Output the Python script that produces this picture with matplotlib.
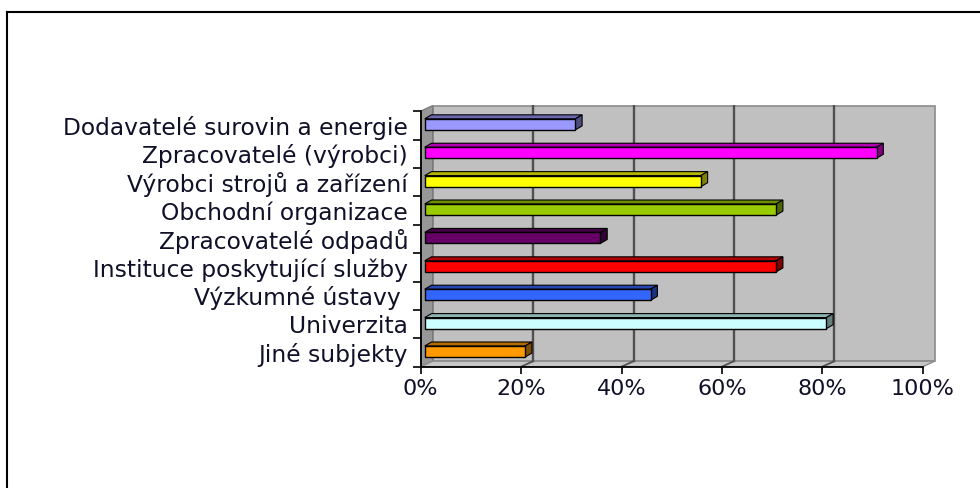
"""
Podil typu subjektu (3D vodorovny sloupcovy graf).
"""
import matplotlib
matplotlib.use("Agg")
import matplotlib.pyplot as plt
from matplotlib.patches import Polygon, Rectangle
from matplotlib.lines import Line2D
import numpy as np

kategorie = ["Dodavatelé surovin a energie", "Zpracovatelé (výrobci)",
             "Výrobci strojů a zařízení", "Obchodní organizace",
             "Zpracovatelé odpadů", "Instituce poskytující služby",
             "Výzkumné ústavy ", "Univerzita", "Jiné subjekty"]
podil = [30, 90, 55, 70, 35, 70, 45, 80, 20]
barvy = ["#9999FF", "#FF00FF", "#FFFF00", "#99CC00", "#660066",
         "#FF0000", "#3366FF", "#CCFFFF", "#FF9900"]
x_ticks = [0, 20, 40, 60, 80, 100]
x_labels = ["0%", "20%", "40%", "60%", "80%", "100%"]

# hloubka 3D (v jednotkach dat)
DX_W = 2.39; DY_W = 0.194      # steny
X0 = 0.8; H = 0.39; Y_OFF = 0.035
DXB = 1.35; DYB = 0.14         # hloubka sloupce

def tmavsi(c, f):
    r, g, b = matplotlib.colors.to_rgb(c)
    return (r * f, g * f, b * f)

fig = plt.figure(figsize=(9.8, 4.88), dpi=100)
ax = fig.add_axes([420.7 / 980, 1 - 366.7 / 488, 519.6 / 980, 261.8 / 488])
ax.set_xlim(0, 103.5); ax.set_ylim(-0.5, 8.72)
ax.set_facecolor("none")

n = len(kategorie)
top = n - 0.5
# steny a podlaha
ax.add_patch(Rectangle((DX_W, -0.5 + DY_W), 100, n, fc="#c0c0c0",
                       ec="#8c8c8c", lw=1.2, zorder=1, clip_on=False))
ax.add_patch(Polygon([(0, -0.5), (DX_W, -0.5 + DY_W), (DX_W, top + DY_W), (0, top)],
                     fc="#979797", ec="#7a7a7a", lw=1, zorder=1, clip_on=False))
ax.add_patch(Polygon([(0, -0.5), (100, -0.5), (100 + DX_W, -0.5 + DY_W), (DX_W, -0.5 + DY_W)],
                     fc="#c6c6c6", ec="#8c8c8c", lw=1, zorder=1, clip_on=False))
for v in x_ticks[1:-1]:
    ax.plot([v + DX_W, v + DX_W], [-0.5 + DY_W, top + DY_W], color="#505050", lw=1.7, zorder=2)
    ax.plot([v, v + DX_W], [-0.5, -0.5 + DY_W], color="#505050", lw=1.3, zorder=2)

# sloupce
ys = np.arange(n)[::-1]
for y, v, c in zip(ys, podil, barvy):
    yc = y + Y_OFF
    ax.barh(yc, v, height=H, left=X0, color=c, edgecolor="black", lw=1, zorder=4)
    ax.add_patch(Polygon([(X0, yc + H / 2), (X0 + v, yc + H / 2),
                          (X0 + v + DXB, yc + H / 2 + DYB), (X0 + DXB, yc + H / 2 + DYB)],
                         fc=tmavsi(c, 0.7), ec="black", lw=0.8, zorder=3))
    ax.add_patch(Polygon([(X0 + v, yc - H / 2), (X0 + v + DXB, yc - H / 2 + DYB),
                          (X0 + v + DXB, yc + H / 2 + DYB), (X0 + v, yc + H / 2)],
                         fc=tmavsi(c, 0.5), ec="black", lw=0.8, zorder=3))

# osy
for s in ["top", "right"]:
    ax.spines[s].set_visible(False)
ax.spines["left"].set_bounds(-0.5, top)
ax.spines["bottom"].set_bounds(0, 100)
for s in ["left", "bottom"]:
    ax.spines[s].set_linewidth(1.3); ax.spines[s].set_zorder(6)

txt = "#101028"
ax.set_xticks(x_ticks)
ax.set_xticklabels(x_labels, fontsize=16, color=txt)
ax.tick_params(axis="x", length=5, width=1.2, pad=4)
ax.set_yticks(np.arange(-0.5, n, 1.0))
ax.set_yticklabels([])
ax.tick_params(axis="y", which="major", length=6, width=1.2)
ax.set_yticks(ys, minor=True)
ax.set_yticklabels(kategorie, minor=True, fontsize=16.8, color=txt)
ax.tick_params(axis="y", which="minor", length=0, pad=9)

# ramecek
fx = 7 / 980; fy = 1 - 12 / 488
fig.add_artist(Line2D([fx, fx], [0, fy], transform=fig.transFigure, color="black", lw=1.5))
fig.add_artist(Line2D([fx, 1], [fy, fy], transform=fig.transFigure, color="black", lw=1.5))

fig.savefig("out.png", dpi=100)
